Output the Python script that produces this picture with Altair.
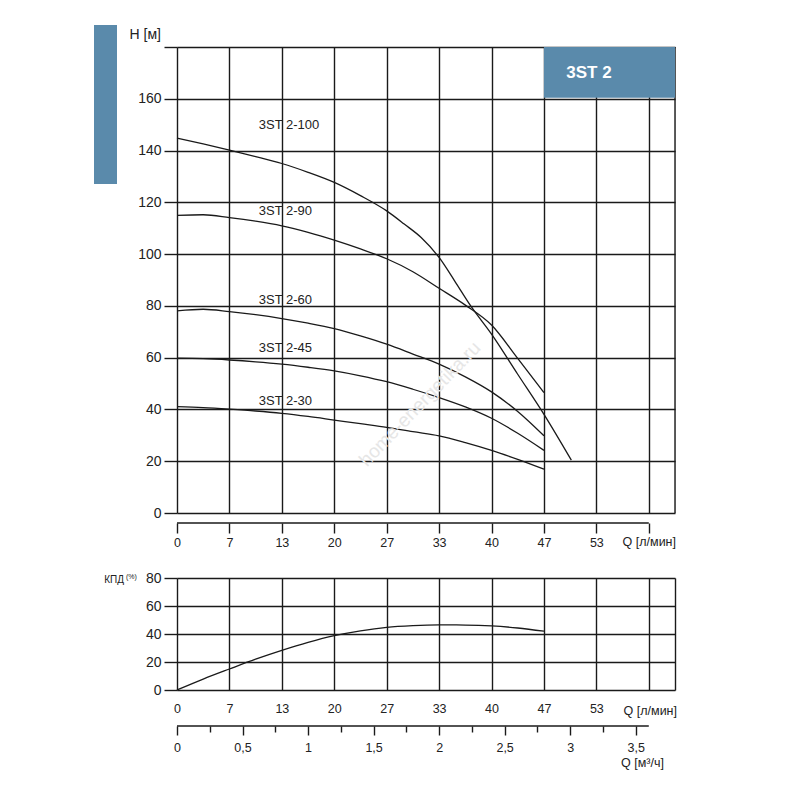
import altair as alt
import pandas as pd

FONT = "Liberation Sans, Arial, Helvetica, sans-serif"
TXT = "#222222"
BLUE = "#5a8aab"
LINE = "#1a1a1a"

# ---------------- data ----------------
# flow grid in l/min (0.4 m3/h steps)
q_ticks = [0, 20 / 3, 40 / 3, 20, 80 / 3, 100 / 3, 40, 140 / 3, 160 / 3, 60]
q_max = 190 / 3          # right edge of the plots (3.8 m3/h)
q_ticks_bot = q_ticks + [q_max]
h_ticks = [0, 20, 40, 60, 80, 100, 120, 140, 160, 180]
e_ticks = [0, 20, 40, 60, 80]
m3_ticks = [0, 0.25, 0.5, 0.75, 1, 1.25, 1.5, 1.75, 2, 2.25, 2.5, 2.75, 3, 3.25, 3.5]

q_pts = [0, 3.33, 6.67, 10, 13.33, 16.67, 20, 23.33, 26.67, 30, 33.33, 36.67, 40, 43.33, 46.67]
q_100 = [0, 3.33, 6.67, 10, 13.33, 16.67, 20, 23.33, 26.67, 28.9, 31.05, 33.33, 35.3, 37.4, 40, 43.33, 46.67, 50.15]
h_100 = [144.8, 142.6, 140.2, 137.7, 135.0, 131.6, 127.7, 122.6, 116.7, 111.6, 106.4, 98.7, 89.7, 79.8, 69.1, 53.6, 38.1, 20.4]
h_90 = [115.0, 115.2, 114.1, 112.7, 110.9, 108.4, 105.4, 102.0, 98.2, 93.2, 86.8, 80.3, 72.6, 59.7, 46.5]
h_60 = [78.1, 78.7, 77.8, 76.6, 75.1, 73.3, 71.2, 68.4, 65.2, 61.4, 57.5, 52.6, 46.8, 39.2, 29.8]
h_45 = [59.8, 59.6, 59.1, 58.4, 57.5, 56.3, 54.9, 53.0, 50.7, 47.8, 44.6, 41.0, 36.6, 30.8, 24.2]
h_30 = [41.1, 40.7, 40.1, 39.4, 38.5, 37.3, 35.9, 34.5, 33.1, 31.4, 29.8, 27.2, 24.2, 20.7, 16.9]
eff = [0, 7.8, 15.0, 22.0, 28.3, 34.0, 38.8, 42.3, 44.8, 46.0, 46.5, 46.4, 45.8, 44.3, 42.0]

series_names = ["3ST 2-100", "3ST 2-90", "3ST 2-60", "3ST 2-45", "3ST 2-30"]
label_q = [10.4, 10.4, 10.4, 10.4, 10.4]
label_h = [149.8, 116.7, 82.2, 63.6, 43.3]

rows = []
for name, qs, hs in zip(series_names,
                        [q_100, q_pts, q_pts, q_pts, q_pts],
                        [h_100, h_90, h_60, h_45, h_30]):
    for q, h in zip(qs, hs):
        rows.append({"series": name, "Q": q, "H": h})
curves = pd.DataFrame(rows)
labels = pd.DataFrame({"name": series_names, "Q": label_q, "H": label_h})
effdf = pd.DataFrame({"Q": q_pts, "E": eff})
one = pd.DataFrame({"a": [0]})

W = 498
H_TOP = 466
H_BOT = 112

xq = alt.Scale(domain=[0, q_max], nice=False, zero=False)
yh = alt.Scale(domain=[0, 180], nice=False, zero=False)
ye = alt.Scale(domain=[0, 80], nice=False, zero=False)
xm = alt.Scale(domain=[0, 3.8], nice=False, zero=False)

q_label_expr = "datum.value > 59 ? '' : format(datum.value, '.0f')"
GRID = dict(grid=True, gridColor=LINE, gridOpacity=1, gridWidth=1.4,
            tickColor=LINE, tickOpacity=1, tickWidth=1.4, domain=False, title=None,
            labelFlush=False, labelOverlap=False, labelColor=TXT, labelFont=FONT)

# ---------------- top chart ----------------
top_x_axis = alt.Axis(values=q_ticks, orient="bottom", ticks=True, tickSize=10, offset=10,
                      labelExpr=q_label_expr, labelFontSize=12.5, labelPadding=3, **GRID)
top_y_axis = alt.Axis(values=h_ticks, ticks=True, tickSize=13,
                      labelExpr="datum.value > 170 ? '' : datum.label",
                      labelFontSize=14, labelPadding=3, **GRID)

lines = alt.Chart(curves).mark_line(interpolate="monotone", color=LINE, strokeWidth=1.3).encode(
    x=alt.X("Q:Q", scale=xq, axis=top_x_axis),
    y=alt.Y("H:Q", scale=yh, axis=top_y_axis),
    detail="series:N",
)

watermark = alt.Chart(one).mark_text(
    text="home-energetika.ru", angle=314, fontSize=19, color="#e6e6e6", font=FONT
).encode(x=alt.value(243), y=alt.value(357))

series_text = alt.Chart(labels).mark_text(
    align="left", baseline="middle", fontSize=13, color=TXT, font=FONT
).encode(
    x=alt.X("Q:Q", scale=xq),
    y=alt.Y("H:Q", scale=yh),
    text="name:N",
)

border_top = alt.Chart(pd.DataFrame({"q": [q_max], "h0": [0], "h1": [180]})).mark_rule(
    color=LINE, strokeWidth=1.4
).encode(
    x=alt.X("q:Q", scale=xq),
    y=alt.Y("h0:Q", scale=yh),
    y2="h1:Q",
)

axis_line_top = alt.Chart(pd.DataFrame({"q0": [0], "q1": [60]})).mark_rule(
    color=LINE, strokeWidth=1.4
).encode(
    x=alt.X("q0:Q", scale=xq),
    x2="q1:Q",
    y=alt.value(H_TOP + 10),
)

box = alt.Chart(pd.DataFrame({"q0": [140 / 3], "q1": [q_max], "h0": [160.4], "h1": [180]})).mark_rect(
    color=BLUE
).encode(
    x=alt.X("q0:Q", scale=xq), x2="q1:Q",
    y=alt.Y("h0:Q", scale=yh), y2="h1:Q",
)

box_text = alt.Chart(pd.DataFrame({"q": [49.5], "h": [170], "t": ["3ST 2"]})).mark_text(
    align="left", baseline="middle", fontSize=17, fontWeight="bold", color="white", font=FONT
).encode(
    x=alt.X("q:Q", scale=xq),
    y=alt.Y("h:Q", scale=yh),
    text="t:N",
)

side_bar = alt.Chart(one).mark_rect(color=BLUE).encode(
    x=alt.value(-83), x2=alt.value(-60), y=alt.value(-22), y2=alt.value(137)
)

h_title = alt.Chart(one).mark_text(
    text="H [м]", align="right", baseline="middle", fontSize=14, color=TXT, font=FONT
).encode(x=alt.value(-16), y=alt.value(-12))

q_title_top = alt.Chart(one).mark_text(
    text="Q [л/мин]", align="right", baseline="middle", fontSize=12.5, color=TXT, font=FONT
).encode(x=alt.value(W + 1), y=alt.value(H_TOP + 29))

bound_top = alt.Chart(one).mark_rect(opacity=0).encode(
    x=alt.value(0), x2=alt.value(10), y=alt.value(H_TOP), y2=alt.value(H_TOP + 40)
)

top = alt.layer(
    lines, watermark, series_text, border_top, axis_line_top, box, box_text,
    side_bar, h_title, q_title_top, bound_top
).properties(width=W, height=H_TOP)

# ---------------- bottom chart ----------------
bot_x_axis = alt.Axis(values=q_ticks_bot, orient="bottom", ticks=False,
                      labelExpr=q_label_expr, labelFontSize=12.5, labelPadding=12, **GRID)
bot_y_axis = alt.Axis(values=e_ticks, ticks=True, tickSize=13,
                      labelFontSize=14, labelPadding=3, **GRID)

eff_line = alt.Chart(effdf).mark_line(interpolate="monotone", color=LINE, strokeWidth=1.3).encode(
    x=alt.X("Q:Q", scale=xq, axis=bot_x_axis),
    y=alt.Y("E:Q", scale=ye, axis=bot_y_axis),
)

q_title_bot = alt.Chart(one).mark_text(
    text="Q [л/мин]", align="right", baseline="middle", fontSize=12.5, color=TXT, font=FONT
).encode(x=alt.value(W + 2), y=alt.value(133))

kpd = alt.Chart(one).mark_text(
    text="КПД", align="right", baseline="middle", fontSize=10, color=TXT, font=FONT
).encode(x=alt.value(-53), y=alt.value(2))

pct = alt.Chart(one).mark_text(
    text="(%)", align="left", baseline="middle", fontSize=7, color=TXT, font=FONT
).encode(x=alt.value(-51), y=alt.value(-1))

m3_title = alt.Chart(one).mark_text(
    text="Q [м³/ч]", align="right", baseline="middle", fontSize=12.5, color=TXT, font=FONT
).encode(x=alt.value(487), y=alt.value(185))

bound_bot = alt.Chart(one).mark_rect(opacity=0).encode(
    x=alt.value(-83), x2=alt.value(-60), y=alt.value(-12), y2=alt.value(0)
)

m3_axis = alt.Axis(
    orient="bottom", offset=36, values=m3_ticks, grid=False, domain=False, ticks=True,
    tickColor=LINE, tickWidth=1.4, tickOpacity=1,
    tickSize={"condition": {"test": "(datum.value * 4) % 2 == 0", "value": 9}, "value": 6},
    labelExpr="(datum.value * 4) % 2 == 0 ? replace(format(datum.value, '~g'), '.', ',') : ''",
    labelFontSize=12.5, labelPadding=6, title=None, labelFlush=False, labelOverlap=False,
    labelColor=TXT, labelFont=FONT,
)

m3_line = alt.Chart(pd.DataFrame({"m0": [0], "m1": [3.6]})).mark_rule(
    color=LINE, strokeWidth=1.4
).encode(
    x=alt.X("m0:Q", scale=xm, axis=m3_axis),
    x2="m1:Q",
    y=alt.value(H_BOT + 36),
)

bottom_main = alt.layer(eff_line, q_title_bot, kpd, pct, m3_title, bound_bot)
bottom = alt.layer(bottom_main, m3_line).resolve_scale(x="independent").properties(
    width=W, height=H_BOT
)

chart = alt.vconcat(top, bottom, spacing=11).properties(
    padding={"left": 85, "top": 16, "right": 5, "bottom": 5}
).configure_view(stroke=None).configure(background="white")

chart.save("out.html", embed_options={"renderer": "svg", "actions": False})
